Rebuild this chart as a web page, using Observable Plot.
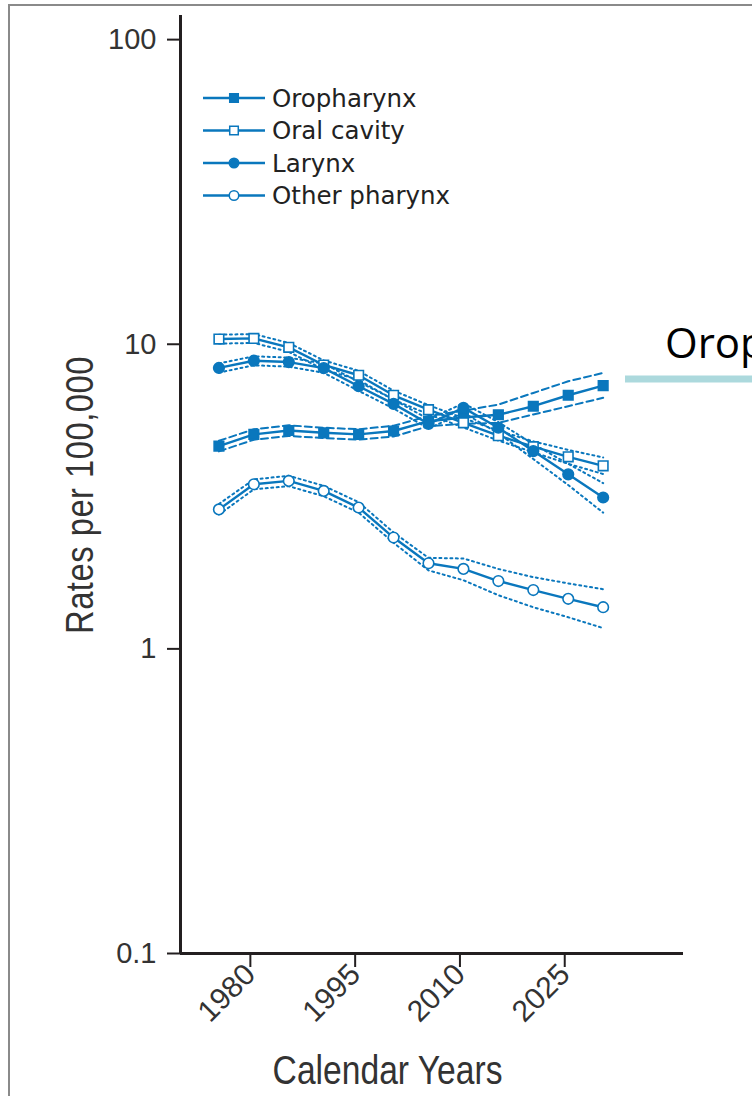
<!DOCTYPE html>
<html>
<head>
<meta charset="utf-8">
<script src="https://cdn.jsdelivr.net/npm/d3@7"></script>
<script src="https://cdn.jsdelivr.net/npm/@observablehq/plot@0.6"></script>
<style>
  html, body { margin: 0; padding: 0; background: #fff; overflow: hidden; }
  #chart { position: relative; width: 752px; height: 1096px; }
  #chart svg text { font-family: "Liberation Sans", Arial, sans-serif; }
  #chart svg text.legend-label { font-family: "DejaVu Sans", Verdana, sans-serif; }
  #chart svg text.callout { font-family: "Open Sans", "Liberation Sans", sans-serif; }
</style>
</head>
<body>
<div id="chart"></div>
<script>
// Period mid-points (calendar years)
const years = [1975.5, 1980.5, 1985.5, 1990.5, 1995.5, 2000.5, 2005.5, 2010.5, 2015.5, 2020.5, 2025.5, 2030.5];

// Rates per 100,000 with lower / upper bounds
const oropharynx   = [4.63, 5.06, 5.21, 5.12, 5.06, 5.19, 5.59, 5.75, 5.87, 6.26, 6.80, 7.31];
const oropharynxLo = [4.45, 4.86, 5.00, 4.92, 4.86, 4.98, 5.38, 5.48, 5.52, 5.88, 6.26, 6.67];
const oropharynxHi = [4.82, 5.26, 5.42, 5.32, 5.26, 5.40, 5.81, 6.05, 6.34, 6.92, 7.56, 8.05];

const oralCavity   = [10.40, 10.45, 9.77, 8.55, 7.91, 6.80, 6.10, 5.52, 5.01, 4.61, 4.27, 3.99];
const oralCavityLo = [10.05, 10.10, 9.44, 8.26, 7.64, 6.57, 5.89, 5.33, 4.83, 4.42, 4.05, 3.75];
const oralCavityHi = [10.75, 10.80, 10.10, 8.85, 8.18, 7.04, 6.31, 5.72, 5.20, 4.80, 4.50, 4.25];

const larynx   = [8.36, 8.83, 8.74, 8.35, 7.28, 6.37, 5.48, 6.18, 5.32, 4.46, 3.74, 3.14];
const larynxLo = [8.07, 8.53, 8.44, 8.06, 7.03, 6.15, 5.29, 5.96, 5.10, 4.20, 3.45, 2.80];
const larynxHi = [8.65, 9.13, 9.04, 8.64, 7.53, 6.59, 5.67, 6.40, 5.55, 4.70, 4.05, 3.50];

const otherPharynx   = [2.87, 3.47, 3.56, 3.30, 2.91, 2.32, 1.91, 1.83, 1.67, 1.56, 1.46, 1.37];
const otherPharynxLo = [2.76, 3.34, 3.42, 3.17, 2.80, 2.23, 1.81, 1.68, 1.50, 1.37, 1.27, 1.17];
const otherPharynxHi = [2.99, 3.60, 3.70, 3.43, 3.03, 2.41, 1.99, 1.98, 1.83, 1.72, 1.64, 1.57];

const seriesNames = ["Oropharynx", "Oral cavity", "Larynx", "Other pharynx"];

const xTicks = [1980, 1995, 2010, 2025];
const xDomain = [1970, 2042];
const yTicks = [0.1, 1, 10, 100];
const yTickLabels = ["0.1", "1", "10", "100"];
const yDomain = [0.1, 120];

const xTitle = "Calendar Years";
const yTitle = "Rates per 100,000";
const calloutText = "Oropharynx";

const blue = "#0a77bd";
const ink = "#231f20";

const series = [
  { name: seriesNames[0], mid: oropharynx,   lo: oropharynxLo,   hi: oropharynxHi,   symbol: "square", filled: true,  dash: "7,4" },
  { name: seriesNames[1], mid: oralCavity,   lo: oralCavityLo,   hi: oralCavityHi,   symbol: "square", filled: false, dash: "2,3.5" },
  { name: seriesNames[2], mid: larynx,       lo: larynxLo,       hi: larynxHi,       symbol: "circle", filled: true,  dash: "2,3.5" },
  { name: seriesNames[3], mid: otherPharynx, lo: otherPharynxLo, hi: otherPharynxHi, symbol: "circle", filled: false, dash: "2,3.5" }
];

const rows = (vals) => years.map((year, i) => ({ year, v: vals[i] }));
const dotR = (s) => (s.symbol === "square" ? 5.4 : 5.3);

const marks = [];
// Confidence bounds
for (const s of series) {
  for (const b of [s.lo, s.hi]) {
    marks.push(Plot.line(rows(b), { x: "year", y: "v", stroke: blue, strokeWidth: 2, strokeDasharray: s.dash }));
  }
}
// Central estimates
for (const s of series) {
  marks.push(Plot.line(rows(s.mid), { x: "year", y: "v", stroke: blue, strokeWidth: 2.4 }));
}
for (const s of series) {
  marks.push(Plot.dot(rows(s.mid), {
    x: "year", y: "v", symbol: s.symbol, r: dotR(s),
    fill: s.filled ? blue : "white", stroke: blue, strokeWidth: 1.6
  }));
}

const plot = Plot.plot({
  width: 752,
  height: 1096,
  marginLeft: 180,
  marginRight: 69,
  marginTop: 15,
  marginBottom: 143,
  style: { background: "transparent", color: ink, overflow: "visible" },
  x: { domain: xDomain, axis: null },
  y: { type: "log", domain: yDomain, axis: null },
  marks: [
    Plot.axisY({
      ticks: yTicks, tickFormat: (d) => yTickLabels[yTicks.indexOf(d)],
      tickSize: 13, tickPadding: 11, strokeWidth: 2, stroke: ink,
      fontSize: 29, fill: "#333", label: null
    }),
    Plot.axisX({
      ticks: xTicks, tickFormat: (d) => String(d), tickRotate: -45,
      tickSize: 14, tickPadding: 2, strokeWidth: 2, stroke: ink,
      fontSize: 30, fill: "#333", label: null
    }),
    Plot.ruleX([xDomain[0]], { stroke: ink, strokeWidth: 3 }),
    Plot.ruleY([yDomain[0]], { stroke: ink, strokeWidth: 3 }),
    ...marks
  ]
});

document.getElementById("chart").appendChild(plot);

const svg = d3.select(plot);
const xs = plot.scale("x"), ys = plot.scale("y");

// Outer frame
svg.insert("rect", ":first-child")
  .attr("x", 9).attr("y", 5).attr("width", 900).attr("height", 1200)
  .attr("fill", "white").attr("stroke", "#8a8a8a").attr("stroke-width", 2);

// Axis titles (condensed by a horizontal squeeze)
const xMid = (xs.apply(years[0]) + xs.apply(years[years.length - 1])) / 2;
svg.append("text")
  .attr("transform", `translate(${xMid - 23}, 1084) scale(0.82, 1)`)
  .attr("text-anchor", "middle")
  .attr("font-size", 41).attr("fill", "#333")
  .text(xTitle);

svg.append("text")
  .attr("transform", `translate(93, ${(ys.apply(yDomain[0]) + ys.apply(yDomain[1])) / 2 + 11}) rotate(-90) scale(0.84, 1)`)
  .attr("text-anchor", "middle")
  .attr("font-size", 39).attr("fill", "#333")
  .attr("letter-spacing", 0.6)
  .text(yTitle);

// Legend
const legend = svg.append("g").attr("transform", "translate(203, 98)");
series.forEach((s, i) => {
  const g = legend.append("g").attr("transform", `translate(0, ${i * 32.5})`);
  g.append("line").attr("x1", 0).attr("x2", 62).attr("y1", 0).attr("y2", 0)
    .attr("stroke", blue).attr("stroke-width", 2.4);
  const area = Math.PI * dotR(s) * dotR(s) * 0.8;
  g.append("path")
    .attr("transform", "translate(31,0)")
    .attr("d", d3.symbol(s.symbol === "square" ? d3.symbolSquare : d3.symbolCircle, area)())
    .attr("fill", s.filled ? blue : "white").attr("stroke", blue).attr("stroke-width", 1.5);
  g.append("text").attr("class", "legend-label")
    .attr("x", 69).attr("y", 0).attr("dy", "0.36em")
    .attr("text-anchor", "start")
    .attr("font-size", 24.5).attr("fill", "#222")
    .text(s.name);
});

// Callout on the right edge
svg.append("line")
  .attr("x1", 625).attr("x2", 760).attr("y1", 379).attr("y2", 379)
  .attr("stroke", "#acd9dd").attr("stroke-width", 7);
svg.append("text").attr("class", "callout")
  .attr("x", 665).attr("y", 358)
  .attr("text-anchor", "start")
  .attr("font-size", 42).attr("fill", "#000")
  .text(calloutText);
</script>
</body>
</html>
